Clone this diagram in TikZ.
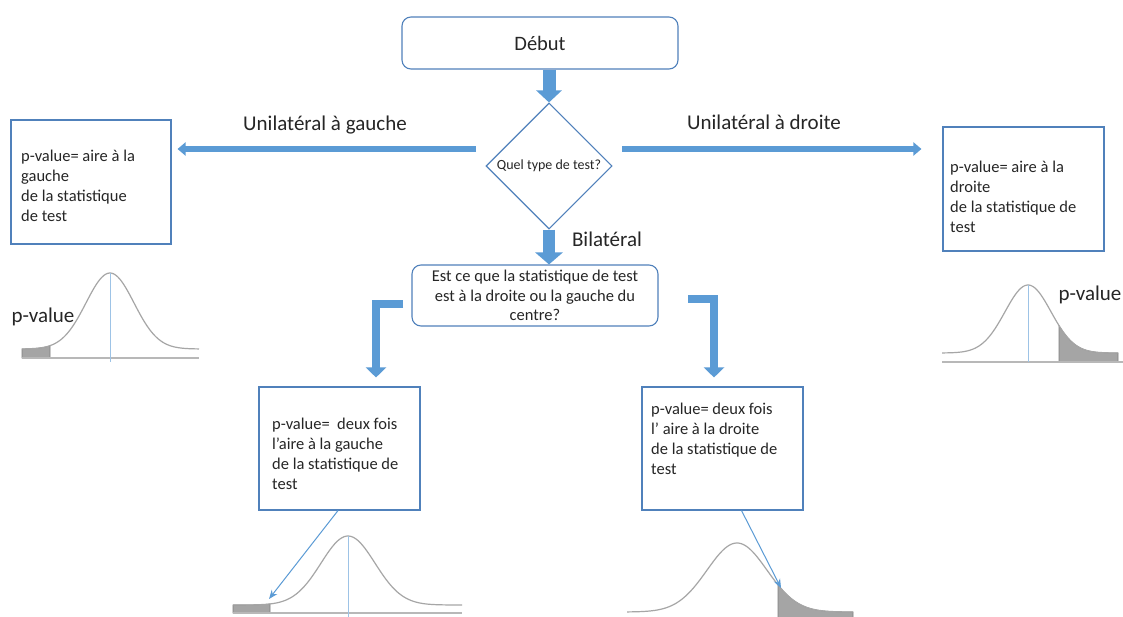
\documentclass[tikz,border=0pt]{standalone}
\usepackage{fontspec}
\setmainfont{Carlito}
\usetikzlibrary{arrows.meta,shapes.geometric}
\definecolor{arrowblue}{HTML}{5B9BD5}
\definecolor{edgeblue}{HTML}{5081BB}
\definecolor{curvegray}{HTML}{A6A6A6}
\definecolor{shadegray}{HTML}{A5A5A5}
\definecolor{shadeedge}{HTML}{808080}
\definecolor{centerblue}{HTML}{9DC3E6}
\definecolor{txt}{HTML}{262626}
\begin{document}
\begin{tikzpicture}[x=1pt,y=-1pt,
  boxtext/.style={font=\fontsize{16.5}{20}\selectfont, text=txt, align=left, inner sep=0pt, anchor=north west},
  squarebox/.style={draw=edgeblue, line width=1.1pt, inner sep=0pt},
  roundbox/.style={squarebox, rounded corners=9pt, text=txt},
  lbl/.style={font=\fontsize{21}{25}\selectfont, text=txt, inner sep=0pt},
  vblock/.style={draw=arrowblue, line width=13pt, -{Triangle[length=12pt,width=25pt]}},
  hblock/.style={draw=arrowblue, line width=6pt, -{Triangle[length=8pt,width=13pt]}},
  bentblock/.style={draw=arrowblue, line width=8pt, line join=miter, -{Triangle[length=10pt,width=20pt]}},
  curve/.style={draw=curvegray, line width=1.2pt},
  baseln/.style={draw=curvegray!80, line width=1.2pt},
  shade/.style={fill=shadegray, draw=shadeedge, line width=0.6pt},
  mid/.style={draw=centerblue, line width=0.9pt},
  pointer/.style={draw=arrowblue, line width=1pt, -{Stealth[length=9pt,width=7pt]}}
]
\useasboundingbox[fill=white] (0,0) rectangle (1123,617);

% main nodes
\node[roundbox, minimum width=276pt, minimum height=52pt, font=\fontsize{20.5}{24}\selectfont] (debut) at (540,43) {Début};
\node[diamond, draw=edgeblue, line width=1.1pt, minimum width=126pt, minimum height=126pt, inner sep=0pt, text=txt, font=\fontsize{14}{16}\selectfont] (q) at (549,166) {Quel type de test?};
\node[roundbox, minimum width=246pt, minimum height=61pt, align=center, font=\fontsize{16.5}{19.5}\selectfont] (est) at (535,295.5) {Est ce que la statistique de test\\est à la droite ou la gauche du\\centre?};

\node[squarebox, minimum width=160pt, minimum height=124pt] (boxL) at (91,182) {};
\node[boxtext] (boxLt) at (21,149.5) {p-value= aire à la\\gauche\\de la statistique\\de test};
\node[squarebox, minimum width=161pt, minimum height=124pt] (boxR) at (1023.5,189) {};
\node[boxtext] (boxRt) at (950,160.5) {p-value= aire à la\\droite\\de la statistique de\\test};
\node[squarebox, minimum width=161pt, minimum height=123pt] (bl) at (339.5,448.5) {};
\node[boxtext] (blt) at (272,417.5) {p-value=\ \ deux fois\\l’aire à la gauche\\de la statistique de\\test};
\node[squarebox, minimum width=161pt, minimum height=123pt] (br) at (722.5,448.5) {};
\node[boxtext] (brt) at (651,402.5) {p-value= deux fois\\l’ aire à la droite\\de la statistique de\\test};

% labels
\node[lbl] (ug) at (325,125) {Unilatéral à gauche};
\node[lbl] (ud) at (764,122) {Unilatéral à droite};
\node[lbl] (bil) at (607,239) {Bilatéral};
\node[lbl] (pvL) at (43,317) {p-value};
\node[lbl] (pvR) at (1090,295) {p-value};

% block arrows
\draw[vblock] (debut.south -| q.north) -- (q.north);
\draw[vblock, line width=12pt, -{Triangle[length=12pt,width=27pt]}] (q.south) -- (q.south |- est.north);
\coordinate (gS) at (476,149);
\coordinate (dS) at (622,149);
\draw[hblock, shorten >=6pt] (gS) -- (gS -| boxL.east);
\draw[hblock, shorten >=21pt] (dS) -- (dS -| boxR.west);
\coordinate (bl1) at (403,304);
\coordinate (br1) at (688,299);
\draw[bentblock, shorten >=9pt] (bl1) -| ([xshift=36.5pt]bl.north);
\draw[bentblock, shorten >=9pt] (br1) -| ([xshift=-8.5pt]br.north);

% top-left curve
\filldraw[shade] (22,358) -- plot[domain=22:50, samples=15, smooth] (\x,{349-76*exp(-((\x-110)*(\x-110))/1152)}) -- (50,358) -- cycle;
\draw[baseln] (22,358) -- (199,358);
\draw[curve] plot[domain=22:199, samples=90, smooth] (\x,{349-76*exp(-((\x-110)*(\x-110))/1152)});
\draw[mid] (110,273) -- (110,362);

% top-right curve
\filldraw[shade] (1059,362) -- plot[domain=1059:1118, samples=20, smooth] (\x,{353-68*exp(-((\x-1028)*(\x-1028))/1058)}) -- (1118,362) -- cycle;
\draw[baseln] (942,362) -- (1123,362);
\draw[curve] plot[domain=942:1118, samples=90, smooth] (\x,{353-68*exp(-((\x-1028)*(\x-1028))/1058)});
\draw[mid] (1028,285) -- (1028,362);

% bottom-left curve
\filldraw[shade] (233,613) -- plot[domain=233:270, samples=15, smooth] (\x,{605-69*exp(-((\x-348)*(\x-348))/1458)}) -- (270,613) -- cycle;
\draw[baseln] (233,613) -- (462,613);
\draw[curve] plot[domain=233:462, samples=100, smooth] (\x,{605-69*exp(-((\x-348)*(\x-348))/1458)});
\draw[mid] (348,536) -- (348,617);

% bottom-right curve
\filldraw[shade] (778,618) -- plot[domain=778:853, samples=25, smooth] (\x,{612-69*exp(-((\x-737)*(\x-737))/1800)}) -- (853,618) -- cycle;
\draw[curve] plot[domain=627:853, samples=100, smooth] (\x,{612-69*exp(-((\x-737)*(\x-737))/1800)});

% pointers
\coordinate (tailL) at (269,599);
\coordinate (tailR) at (781,588);
\draw[pointer] ([xshift=-1.5pt]bl.south) -- (tailL);
\draw[pointer] ([xshift=19pt]br.south) -- (tailR);
\end{tikzpicture}
\end{document}
